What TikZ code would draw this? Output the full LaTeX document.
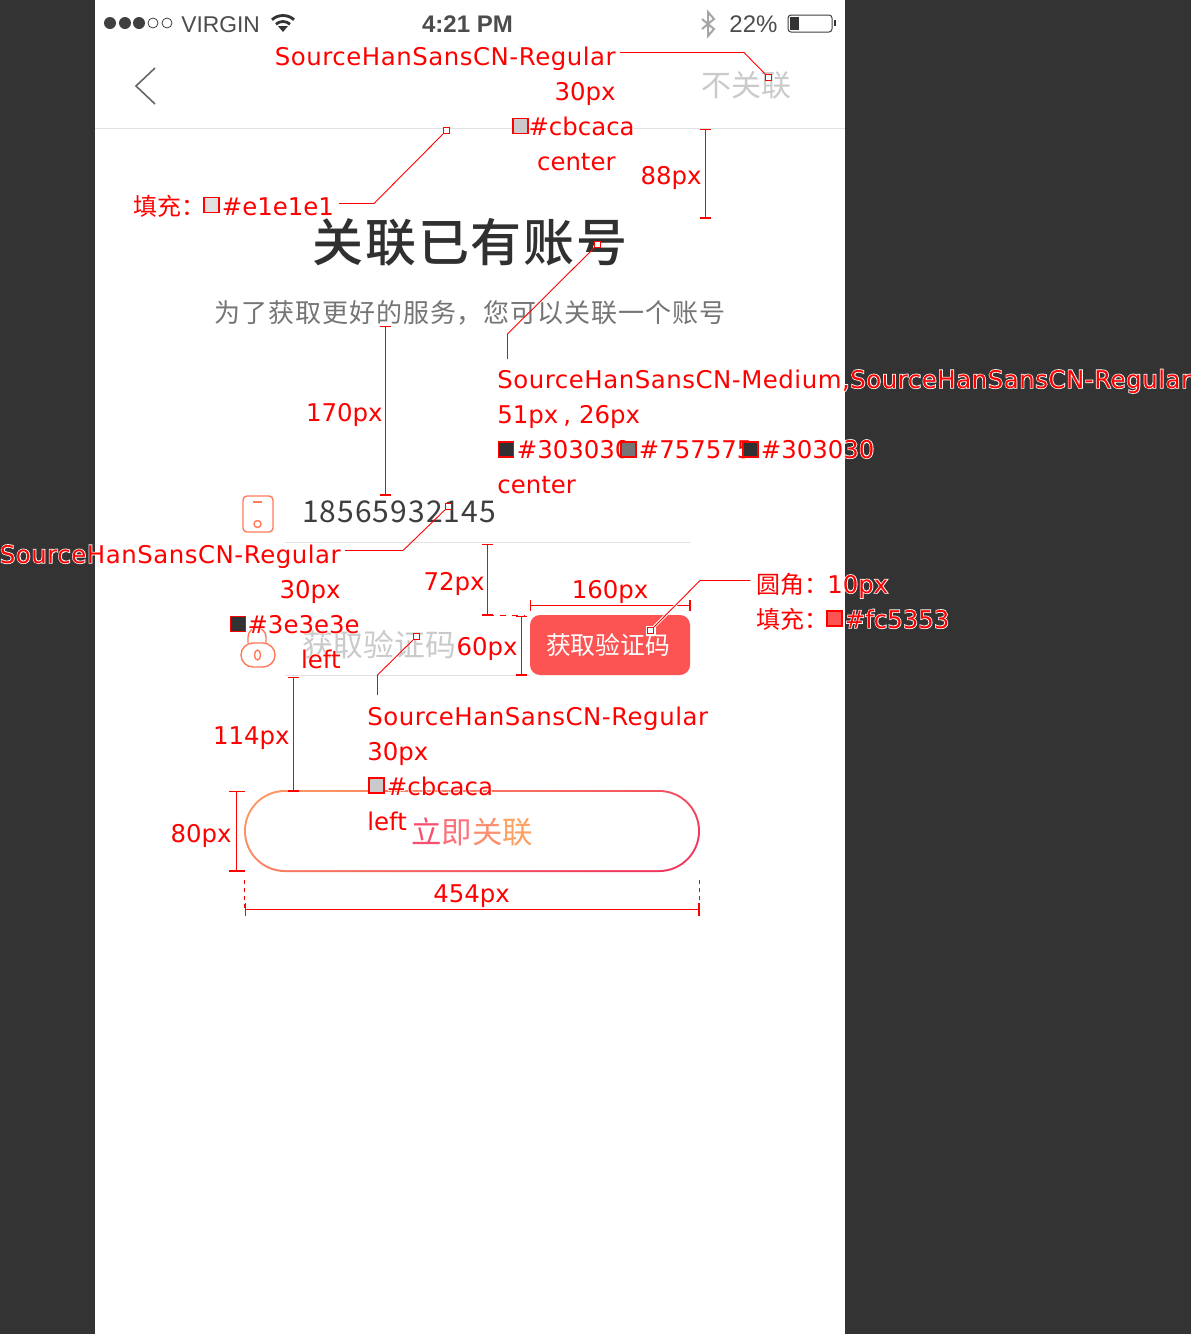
\documentclass[tikz,border=0pt]{standalone}
\usepackage{fontspec}
\usetikzlibrary{arrows.meta}
\setmainfont{Liberation Sans}
\newfontfamily\cjk{Noto Sans CJK SC}
\newfontfamily\cjkmedium{Noto Sans CJK SC Medium}
\newfontfamily\tagfont{DejaVu Sans}
\newfontfamily\halofont[FakeBold=6]{DejaVu Sans}

\definecolor{backdrop}{HTML}{333333}
\definecolor{rule}{HTML}{E1E1E1}
\definecolor{hint}{HTML}{CBCACA}
\definecolor{titlegray}{HTML}{303030}
\definecolor{subgray}{HTML}{757575}
\definecolor{phonegray}{HTML}{3E3E3E}
\definecolor{btnred}{HTML}{FC5353}
\definecolor{iconorange}{HTML}{FF7A5A}
\definecolor{pilltopc}{HTML}{FF9460}
\definecolor{pillbotc}{HTML}{F0385E}
\definecolor{purered}{HTML}{FF0000}

\tikzset{
  tagfront/.style = {inner sep = 0, text = purered, font = \tagfont\fontsize{12.2}{12.2}\selectfont},
  tagback/.style = {inner sep = 0, text = white, font = \halofont\fontsize{12.2}{12.2}\selectfont},
  tagcjk/.style = {inner sep = 0, text = purered, font = \cjk\fontsize{12}{12}\selectfont},
  swatch/.style = {draw = purered, line width = 0.6pt, minimum size = 7.5pt, inner sep = 0},
  pin/.style = {draw = purered, fill = white, line width = 0.6pt, minimum size = 3pt, inner sep = 0},
  leader/.style = {draw = purered, line width = 0.45pt},
  dimline/.style = {color = purered, line width = 0.65pt, {Bar[width = 5.5pt]}-{Bar[width = 5.5pt]}},
  hairline/.style = {rule, line width = 0.5pt},
  icon/.style = {iconorange, line width = 0.7pt},
  status/.style = {inner sep = 0, text = black!70, font = \fontsize{12}{12}\selectfont}
}

\newcommand{\redtag}[4]{
  \node (#1-halo) at (#2) [tagback, anchor = #3] {#4};
  \node (#1) at (#2) [tagfront, anchor = #3] {#4};
}

\begin{document}
\begin{tikzpicture}[x = 0.5pt, y = -0.5pt]
    \useasboundingbox (0,0) rectangle (1191,1334);
    \fill [backdrop] (0,0) rectangle (1191,1334);
    \fill [white] (95,0) rectangle (845,1334);

    % status bar
    \foreach \x in {110,125,139} \fill [black!75] (\x,23) circle (6);
    \foreach \x in {153,167} \draw [black!75, line width = 0.4pt] (\x,23) circle (5);
    \node (carrier) at (181,32.5) [status, anchor = base west, font = \fontsize{11.4}{11.4}\selectfont] {VIRGIN};
    \draw [black!80, line width = 1.4pt] (283,32) ++(-48:16.5) arc (-48:-132:16.5);
    \draw [black!80, line width = 1.4pt] (283,32) ++(-48:10.5) arc (-48:-132:10.5);
    \fill [black!80] (283,32) -- (278,26) -- (288,26) -- cycle;
    \node (clock) at (467.5,32.5) [status, anchor = base] {\textbf{4:21 PM}};
    \draw [black!35, line width = 1pt] (702,19) -- (714,29) -- (708,36) -- (708,12) -- (714,19) -- (702,29);
    \node (charge) at (729,32.5) [status, anchor = base west] {22\%};
    \draw [black!75, line width = 0.5pt, rounded corners = 1.5pt] (788,15) rectangle (832,32);
    \fill [black!80] (790,17) rectangle (799,30);
    \fill [black!80] (834,20) rectangle (836,26);

    % navigation
    \draw [black!60, line width = 0.8pt] (155,68) -- (136,86) -- (155,104);
    \node (skip) at (746,85) [inner sep = 0, text = hint, font = \cjk\fontsize{15}{15}\selectfont] {不关联};
    \draw [hairline] (95,128.5) -- (845,128.5);

    % headings
    \node (title) at (470,242) [inner sep = 0, text = titlegray, font = \cjkmedium\fontsize{25.5}{25.5}\selectfont\addfontfeature{LetterSpace = 3.5}] {关联已有账号};
    \node (subtitle) at (470,313) [inner sep = 0, text = subgray, font = \cjk\fontsize{13}{13}\selectfont\addfontfeature{LetterSpace = 3.5}] {为了获取更好的服务，您可以关联一个账号};

    % form
    \draw [icon, rounded corners = 2pt] (243,496) rectangle (273,532);
    \draw [icon] (253,502) -- (262,502);
    \draw [icon] (257.5,524) circle (3.5);
    \node (phone) at (399,512) [inner sep = 0, text = phonegray, font = \cjk\fontsize{15}{15}\selectfont\addfontfeature{LetterSpace = 3.5}] {18565932145};
    \draw [hairline] (285,542.5) -- (690,542.5);
    \draw [icon] (248,643) -- (248,637) arc (180:360:9) -- (266,643);
    \draw [icon, rounded corners = 6pt] (241,643) rectangle (275,667);
    \draw [icon] (257.5,655) ellipse (3 and 5);
    \node (code) at (379,645) [inner sep = 0, text = hint, font = \cjk\fontsize{15.4}{15.4}\selectfont] {获取验证码};
    \draw [hairline] (285,675.5) -- (530,675.5);
    \node (getcode) at (610,645) [fill = btnred, rounded corners = 5pt, minimum width = 80pt, minimum height = 30pt, inner sep = 0, text = white, font = \cjk\fontsize{12.4}{12.4}\selectfont] {\kern-2pt 获取验证码};

    % link button
    \node (linkpill) at (472,831) [rounded corners = 20.5pt, minimum width = 228pt, minimum height = 41pt, top color = pilltopc, bottom color = pillbotc, shading angle = 25] {};
    \node (linkfill) at (linkpill) [fill = white, rounded corners = 19.5pt, minimum width = 226pt, minimum height = 39pt] {};
    \node (linktext) at (472,832) [inner sep = 0, font = \cjk\fontsize{15.2}{15.2}\selectfont] {\textcolor[HTML]{F5506F}{立}\textcolor[HTML]{F9727C}{即}\textcolor[HTML]{FB9070}{关}\textcolor[HTML]{FDA060}{联}};

    % notes on the skip link
    \redtag{skipfont}{616,65}{base east}{\addfontfeature{LetterSpace = 2.2}SourceHanSansCN-Regular}
    \redtag{skipsize}{616,100}{base east}{30px}
    \redtag{skipcolor}{635,135}{base east}{\#cbcaca}
    \redtag{skipalign}{616,170}{base east}{center}
    \node (skipswatch) at (520.5,126) [swatch, fill = hint] {};
    \node (skippin) at (768.5,77.5) [pin] {};
    \coordinate (skipbend) at (744,52.5);
    \coordinate (skipstart) at (620,52.5);
    \draw [leader] (skipstart) -- (skipbend) -- (skippin);

    % notes on the rule
    \node (rulelabel) at (133,215) [tagcjk, anchor = base west] {填充：};
    \redtag{rulecolor}{221.5,215}{base west}{\#e1e1e1}
    \node (ruleswatch) at (211.5,205) [swatch, fill = rule] {};
    \node (rulepin) at (446.5,130.5) [pin] {};
    \coordinate (rulebend) at (374,203.5);
    \coordinate (rulestart) at (339,203.5);
    \draw [leader] (rulestart) -- (rulebend) -- (rulepin);

    \coordinate (navtop) at (705.5,128.5);
    \coordinate (navbottom) at (705.5,218.5);
    \draw [dimline] (navtop) -- (navbottom);
    \redtag{navheight}{702,184}{base east}{88px}

    % notes on the headings
    \node (titlepin) at (597.5,244.5) [pin] {};
    \coordinate (titlebend) at (507.5,334);
    \coordinate (titleend) at (507.5,359);
    \draw [leader] (titlepin) -- (titlebend) -- (titleend);
    \redtag{titlefont}{497,388}{base west}{\addfontfeature{LetterSpace = 2.2}SourceHanSansCN-Medium,SourceHanSansCN-Regular}
    \redtag{titlesize}{497,423}{base west}{51px\kern2.5pt,\kern4pt 26px}
    \redtag{titlealign}{497,493}{base west}{center}
    \redtag{colora}{516.5,458}{base west}{\#303030}
    \node (swatcha) at (506,449.5) [swatch, fill = titlegray] {};
    \redtag{colorb}{638.5,458}{base west}{\#757575}
    \node (swatchb) at (628.5,449.5) [swatch, fill = subgray] {};
    \redtag{colorc}{760.5,458}{base west}{\#303030}
    \node (swatchc) at (750.5,449.5) [swatch, fill = titlegray] {};

    \coordinate (subbottom) at (385.5,325.5);
    \coordinate (phonetop) at (385.5,495.5);
    \draw [dimline] (subbottom) -- (phonetop);
    \redtag{subgap}{383,421}{base east}{170px}

    % notes on the phone number
    \redtag{phonefont}{341,563}{base east}{\addfontfeature{LetterSpace = 2.2}SourceHanSansCN-Regular}
    \redtag{phonesize}{341,598}{base east}{30px}
    \redtag{phonecolor}{360,633}{base east}{\#3e3e3e}
    \redtag{phonealign}{341,668}{base east}{left}
    \node (phoneswatch) at (238,624) [swatch, fill = backdrop] {};
    \node (phonepin) at (448.5,506.5) [pin] {};
    \coordinate (phonebend) at (403,550.5);
    \coordinate (phonestart) at (345,550.5);
    \draw [leader] (phonestart) -- (phonebend) -- (phonepin);

    \coordinate (rowtop) at (487.5,543.5);
    \coordinate (rowbottom) at (487.5,615.5);
    \coordinate (rowdash) at (525,615.5);
    \draw [dimline] (rowtop) -- (rowbottom);
    \draw [leader, dash pattern = on 3pt off 3pt] (rowbottom) -- (rowdash);
    \redtag{rowgap}{485,590}{base east}{72px}

    \coordinate (codetop) at (521.5,615.5);
    \coordinate (codebottom) at (521.5,675.5);
    \draw [dimline] (codetop) -- (codebottom);
    \redtag{codeheight}{518,655}{base east}{60px}

    \coordinate (btnleft) at (529.5,605.5);
    \coordinate (btnright) at (690.5,605.5);
    \draw [dimline] (btnleft) -- (btnright);
    \redtag{btnwidth}{610,598}{base}{160px}

    % notes on the code button
    \node (btnback) at (650.5,630.5) [fill = white, minimum size = 5pt, inner sep = 0] {};
    \node (btnpin) at (650.5,630.5) [pin] {};
    \coordinate (btnbend) at (700,580.5);
    \coordinate (btnstart) at (750,580.5);
    \draw [white, line width = 1.4pt] (btnpin) -- (btnbend);
    \draw [leader] (btnpin) -- (btnbend) -- (btnstart);
    \node (btnround) at (756,593) [tagcjk, anchor = base west] {圆角：};
    \redtag{btnradius}{827,593}{base west}{10px}
    \node (btnfill) at (756,628) [tagcjk, anchor = base west] {填充：};
    \redtag{btncolor}{844.5,628}{base west}{\#fc5353}
    \node (btnswatch) at (834.5,618.5) [swatch, fill = btnred] {};

    % notes on the placeholder
    \node (codepin) at (416.5,636.5) [pin] {};
    \coordinate (codebend) at (377.5,675);
    \coordinate (codeend) at (377.5,695);
    \draw [leader] (codepin) -- (codebend) -- (codeend);
    \redtag{codefont}{367,725}{base west}{\addfontfeature{LetterSpace = 2.2}SourceHanSansCN-Regular}
    \redtag{codesize}{367,760}{base west}{30px}
    \redtag{codecolor}{386.5,795}{base west}{\#cbcaca}
    \redtag{codealign}{367,830}{base west}{left}
    \node (codeswatch) at (376.5,785.5) [swatch, fill = hint] {};

    \coordinate (gaptop) at (293.5,676.5);
    \coordinate (gapbottom) at (293.5,791.5);
    \draw [dimline] (gaptop) -- (gapbottom);
    \redtag{gaplabel}{290,744}{base east}{114px}

    % notes on the link button
    \coordinate (pilltop) at (236.5,790.5);
    \coordinate (pillbottom) at (236.5,871.5);
    \draw [dimline, {Bar[width = 8pt]}-{Bar[width = 8pt]}] (pilltop) -- (pillbottom);
    \redtag{pillheight}{232,842}{base east}{80px}
    \coordinate (pillleft) at (244.5,909.5);
    \coordinate (pillright) at (699.5,909.5);
    \coordinate (pillleftup) at (244.5,880);
    \coordinate (pillrightup) at (699.5,880);
    \draw [dimline, {Bar[width = 6.5pt]}-{Bar[width = 6.5pt]}] (pillleft) -- (pillright);
    \draw [leader, dash pattern = on 2pt off 2pt] (pillleftup) -- (pillleft);
    \draw [leader, dash pattern = on 2pt off 2pt] (pillrightup) -- (pillright);
    \redtag{pillwidth}{471.5,902}{base}{454px}
\end{tikzpicture}
\end{document}
